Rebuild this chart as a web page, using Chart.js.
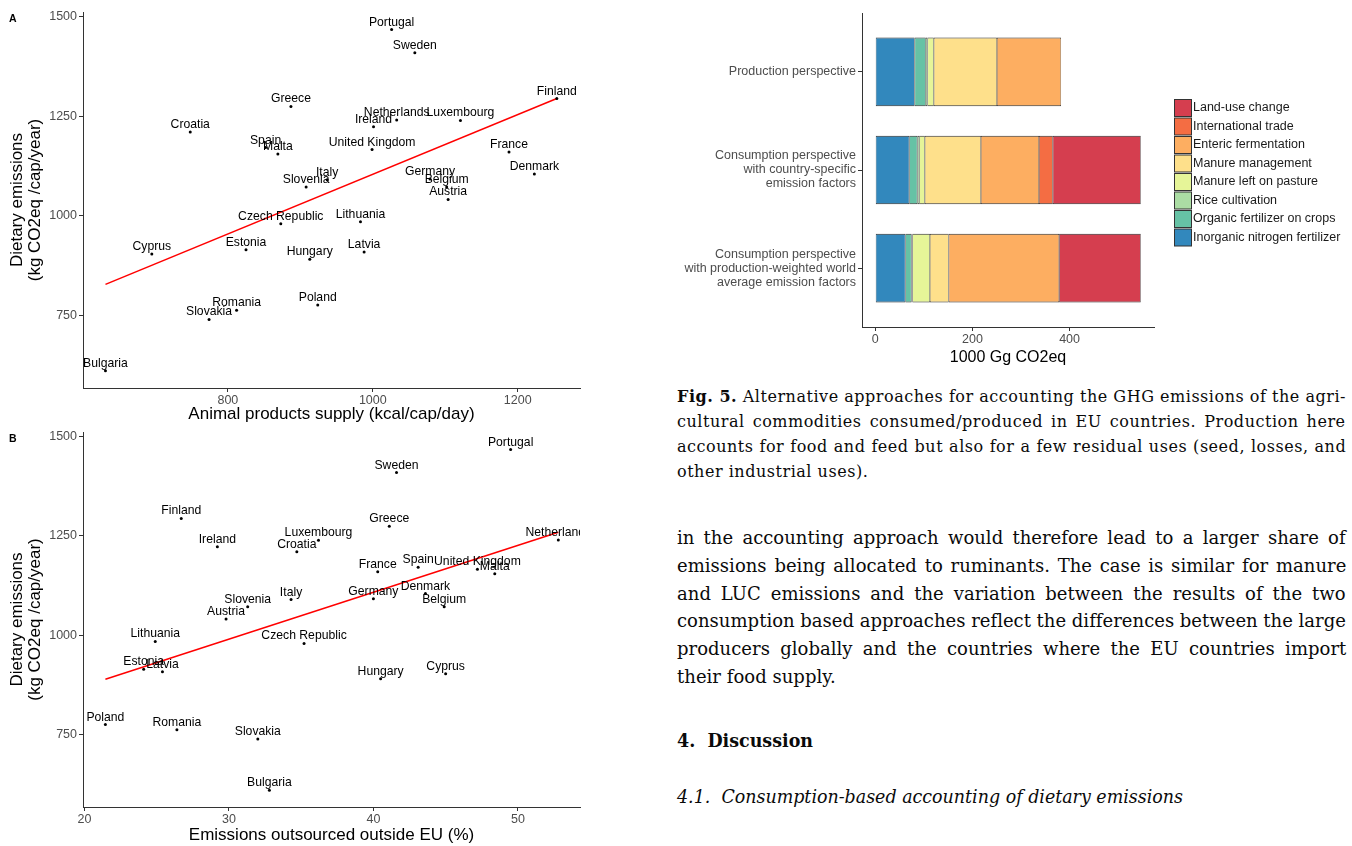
<!DOCTYPE html>
<html>
<head>
<meta charset="utf-8">
<script src="https://cdn.jsdelivr.net/npm/chart.js@4.4.1/dist/chart.umd.min.js"></script>
<style>
  html, body { margin: 0; padding: 0; background: #fff; }
  body { width: 1352px; height: 846px; position: relative; overflow: hidden; }
  canvas { position: absolute; }
  .panel { position: absolute; font: bold 10.5px "Liberation Sans", Arial, sans-serif; line-height: 12px; color: #000; }
  .ln { position: absolute; left: 677px; white-space: pre; font-family: "DejaVu Serif", serif; color: #0a0a0a; transform-origin: 0 50%; }
  .cap { font-size: 16px; line-height: 24px; height: 24px; }
  .body { font-size: 18px; line-height: 26px; height: 26px; }
  .head { font-size: 18px; line-height: 26px; height: 26px; font-weight: bold; }
  .sub { font-size: 18px; line-height: 26px; height: 26px; font-style: italic; }
</style>
</head>
<body>
<canvas id="scatterA" width="590" height="425" style="left:0;top:0"></canvas>
<canvas id="scatterB" width="590" height="421" style="left:0;top:425px"></canvas>
<canvas id="bars" width="692" height="372" style="left:660px;top:0"></canvas>
<div class="panel" style="left:9px;top:12px">A</div>
<div class="panel" style="left:9px;top:432px">B</div>
<div id="text"></div>
<script>
// ---- Country data (per-capita dietary emissions and drivers) ----
const countries = ["Portugal","Sweden","Finland","Greece","Croatia","Netherlands","Ireland","Luxembourg",
  "Spain","Malta","United Kingdom","France","Denmark","Italy","Slovenia","Germany","Belgium","Austria",
  "Czech Republic","Lithuania","Cyprus","Estonia","Hungary","Latvia","Poland","Romania","Slovakia","Bulgaria"];
const dietaryEmissions = [1467,1409,1294,1274,1210,1240,1223,1239,
  1171,1155,1166,1160,1105,1090,1072,1092,1072,1041,
  980,985,904,915,891,909,776,763,740,611];
const animalSupply = [1026,1058,1254,887,748,1033,1001,1121,
  852,869,999,1188,1223,937,908,1079,1102,1104,
  873,983,695,825,913,988,924,812,774,631];
const outsourcedShare = [49.5,41.6,26.7,41.1,34.7,52.8,29.2,36.2,
  43.1,48.4,47.2,40.3,43.6,34.3,31.3,40.0,44.9,29.8,
  35.2,24.9,45.0,24.1,40.5,25.4,21.45,26.4,32.0,32.8];

// Linear-fit end points
const fitSupplyX = [631, 1254];
const fitSupplyY = [828, 1294];
const fitOutsourcedX = [21.45, 52.8];
const fitOutsourcedY = [890, 1259];

const supplyTicks = [800, 1000, 1200];
const outsourcedTicks = [20, 30, 40, 50];
const emissionTicks = [750, 1000, 1250, 1500];

// ---- Accounting perspectives (1000 Gg CO2eq) ----
const perspectives = [
  ["Production perspective"],
  ["Consumption perspective", "with country-specific", "emission factors"],
  ["Consumption perspective", "with production-weighted world", "average emission factors"]
];
const sources = ["Inorganic nitrogen fertilizer","Organic fertilizer on crops","Rice cultivation",
  "Manure left on pasture","Manure management","Enteric fermentation","International trade","Land-use change"];
const inorganicN  = [81, 70, 62];
const organicFert = [23, 16.5, 12.5];
const rice        = [3.5, 4, 2];
const pasture     = [13, 11.5, 36];
const manureMgmt  = [130, 115.5, 38.7];
const enteric     = [132, 119.5, 227.3];
const trade       = [0, 28.5, 0];
const landUse     = [0, 181, 168];
const barTicks = [0, 200, 400];

const sourceColors = ["#3288BD","#66C2A5","#ABDDA4","#E6F598","#FEE08B","#FDAE61","#F46D43","#D53E4F"];

const sansFont = '"Liberation Sans", Arial, sans-serif';
Chart.defaults.font.family = sansFont;

function fixedTicks(list) {
  return s => { s.ticks = list.map(v => ({ value: v })); };
}

function scatterChart(id, xs, fitX, fitY, xTicks, xRange, yRange, xTitle, padTop, xAxisHeight) {
  const countryLabels = {
    id: 'countryLabels',
    afterDatasetsDraw(chart) {
      const { ctx, chartArea: a } = chart;
      const meta = chart.getDatasetMeta(0);
      ctx.save();
      ctx.beginPath();
      ctx.rect(a.left, a.top, a.right - a.left, a.bottom - a.top);
      ctx.clip();
      ctx.font = '12.2px ' + sansFont;
      ctx.fillStyle = '#000';
      ctx.textAlign = 'center';
      ctx.textBaseline = 'alphabetic';
      meta.data.forEach((pt, i) => ctx.fillText(countries[i], pt.x, pt.y - 4));
      ctx.restore();
    }
  };
  return new Chart(document.getElementById(id), {
    type: 'scatter',
    data: {
      datasets: [
        {
          data: countries.map((c, i) => ({ x: xs[i], y: dietaryEmissions[i] })),
          pointRadius: 1.5, pointHoverRadius: 1.5,
          pointBackgroundColor: '#000', pointBorderWidth: 0
        },
        {
          data: fitX.map((x, i) => ({ x: x, y: fitY[i] })),
          showLine: true, borderColor: '#ff0000', borderWidth: 1.5,
          pointRadius: 0, pointHoverRadius: 0
        }
      ]
    },
    options: {
      responsive: false, animation: false, devicePixelRatio: 1, events: [],
      layout: { padding: { top: padTop, right: 10, left: 0, bottom: 0 } },
      plugins: { legend: { display: false }, tooltip: { enabled: false } },
      scales: {
        x: {
          type: 'linear', min: xRange[0], max: xRange[1],
          afterBuildTicks: fixedTicks(xTicks),
          afterFit: s => { s.height = xAxisHeight; s.paddingLeft = 0; s.paddingRight = 0; },
          grid: { display: true, drawOnChartArea: false, drawTicks: true, tickLength: 4, color: '#333', lineWidth: 1 },
          border: { display: true, color: '#333', width: 1 },
          ticks: { color: '#4d4d4d', font: { size: 12.5 }, padding: 1, maxRotation: 0, callback: v => String(v) },
          title: { display: true, text: xTitle, color: '#000', font: { size: 17 }, padding: { top: 0, bottom: 0 } }
        },
        y: {
          type: 'linear', min: yRange[0], max: yRange[1],
          afterBuildTicks: fixedTicks(emissionTicks),
          afterFit: s => { s.width = 83; s.paddingTop = 0; s.paddingBottom = 0; },
          grid: { display: true, drawOnChartArea: false, drawTicks: true, tickLength: 4, color: '#333', lineWidth: 1 },
          border: { display: true, color: '#333', width: 1 },
          ticks: { color: '#4d4d4d', font: { size: 12.5 }, padding: 2, callback: v => String(v) },
          title: {
            display: true, text: ['Dietary emissions', '(kg CO2eq /cap/year)'], color: '#000',
            font: { size: 17, lineHeight: 1.06 }, padding: { top: 8, bottom: 0 }
          }
        }
      }
    },
    plugins: [countryLabels]
  });
}

scatterChart('scatterA', animalSupply, fitSupplyX, fitSupplyY, supplyTicks,
  [600, 1286], [568, 1511], 'Animal products supply (kcal/cap/day)', 12, 37);
scatterChart('scatterB', outsourcedShare, fitOutsourcedX, fitOutsourcedY, outsourcedTicks,
  [19.9, 54.3], [569, 1511], 'Emissions outsourced outside EU (%)', 7, 39);

// ---- Stacked horizontal bars ----
const sourceValues = [inorganicN, organicFert, rice, pasture, manureMgmt, enteric, trade, landUse];
const barDatasets = sourceValues.map((vals, k) => ({
  label: sources[k],
  data: vals.map((v, i) => ({ x: v, y: i })),
  backgroundColor: sourceColors[k],
  borderColor: '#2a2a2a',
  borderWidth: { top: 1, bottom: 1, left: 0.6, right: 0.6 },
  borderSkipped: false,
  barPercentage: 0.7,
  categoryPercentage: 1
}));

const sourceLegend = {
  id: 'sourceLegend',
  afterDraw(chart) {
    const ctx = chart.ctx;
    const x0 = chart.chartArea.right + 20.5;
    ctx.save();
    ctx.font = '12.5px ' + sansFont;
    ctx.textBaseline = 'middle';
    ctx.textAlign = 'left';
    chart.data.datasets.slice().reverse().forEach((ds, k) => {
      const cy = 108 + k * 18.5;
      ctx.fillStyle = ds.backgroundColor;
      ctx.fillRect(x0, cy - 8.5, 17, 17);
      ctx.strokeStyle = '#333';
      ctx.lineWidth = 1;
      ctx.strokeRect(x0, cy - 8.5, 17, 17);
      ctx.fillStyle = '#1a1a1a';
      ctx.fillText(ds.label, x0 + 18.5, cy);
    });
    ctx.restore();
  }
};

new Chart(document.getElementById('bars'), {
  type: 'bar',
  data: { datasets: barDatasets },
  options: {
    indexAxis: 'y',
    responsive: false, animation: false, devicePixelRatio: 1, events: [],
    layout: { padding: { top: 13, right: 198, left: 0, bottom: 0 } },
    plugins: { legend: { display: false }, tooltip: { enabled: false } },
    scales: {
      x: {
        type: 'linear', stacked: true, min: -27.3, max: 573.8,
        afterBuildTicks: fixedTicks(barTicks),
        afterFit: s => { s.height = 45; s.paddingLeft = 0; s.paddingRight = 0; },
        grid: { display: true, drawOnChartArea: false, drawTicks: true, tickLength: 4, color: '#333', lineWidth: 1 },
        border: { display: true, color: '#333', width: 1 },
        ticks: { color: '#4d4d4d', font: { size: 12.5 }, padding: 1, maxRotation: 0, callback: v => String(v) },
        title: { display: true, text: '1000 Gg CO2eq', color: '#000', font: { size: 16 }, padding: { top: 0, bottom: 5 } }
      },
      y: {
        type: 'linear', stacked: true, reverse: true, min: -0.6, max: 2.6,
        offset: false,
        afterBuildTicks: fixedTicks(perspectives.map((p, i) => i)),
        afterFit: s => { s.width = 202; s.paddingTop = 0; s.paddingBottom = 0; },
        grid: { display: true, offset: false, drawOnChartArea: false, drawTicks: true, tickLength: 4, color: '#333', lineWidth: 1 },
        border: { display: true, color: '#333', width: 1 },
        ticks: { color: '#4d4d4d', font: { size: 12.5, lineHeight: 1.12 }, padding: 2, callback: v => perspectives[v] }
      }
    }
  },
  plugins: [sourceLegend]
});

// ---- Caption and article text ----
const textBlocks = [
  { cls: 'cap', lines: [
    { html: '<b>Fig. 5.</b> Alternative approaches for accounting the GHG emissions of the agri-', y: 396.5, w: 669, j: true },
    { html: 'cultural commodities consumed/produced in EU countries. Production here', y: 421.8, w: 669, j: true },
    { html: 'accounts for food and feed but also for a few residual uses (seed, losses, and', y: 447.1, w: 669, j: true },
    { html: 'other industrial uses).', y: 472.4, w: 186, j: false }
  ]},
  { cls: 'body', lines: [
    { html: 'in the accounting approach would therefore lead to a larger share of', y: 537.7, w: 669, j: true },
    { html: 'emissions being allocated to ruminants. The case is similar for manure', y: 565.6, w: 669, j: true },
    { html: 'and LUC emissions and the variation between the results of the two', y: 593.5, w: 669, j: true },
    { html: 'consumption based approaches reflect the differences between the large', y: 621.4, w: 669, j: true },
    { html: 'producers globally and the countries where the EU countries import', y: 649.3, w: 669, j: true },
    { html: 'their food supply.', y: 677.2, w: 168, j: false }
  ]},
  { cls: 'head', lines: [ { html: '4.  Discussion', y: 740.5, w: 136, j: false } ] },
  { cls: 'sub', lines: [ { html: '4.1.  Consumption-based accounting of dietary emissions', y: 797, w: 506, j: false } ] }
];

const textRoot = document.getElementById('text');
textBlocks.forEach(block => {
  const els = block.lines.map(line => {
    const el = document.createElement('div');
    el.className = 'ln ' + block.cls;
    el.innerHTML = line.html;
    textRoot.appendChild(el);
    const lh = parseFloat(getComputedStyle(el).lineHeight);
    el.style.top = (line.y - lh / 2) + 'px';
    return { el, line, w: el.getBoundingClientRect().width };
  });
  // the tightest line of a block sets its horizontal scale / letter spacing
  const just = els.filter(e => e.line.j);
  const ref = just.length ? just : [els[0]];
  let ratio = Infinity;
  ref.forEach(e => { ratio = Math.min(ratio, e.line.w / e.w); });
  let scale = 1, ls = 0;
  if (ratio < 1) {
    scale = ratio;
  } else {
    let best = Infinity;
    ref.forEach(e => { best = Math.min(best, (e.line.w - e.w) / e.el.textContent.length); });
    ls = best;
  }
  els.forEach(e => {
    e.el.style.letterSpacing = ls + 'px';
    if (scale !== 1) e.el.style.transform = 'scaleX(' + scale + ')';
  });
  els.forEach(e => {
    if (!e.line.j) return;
    const w = e.el.offsetWidth;
    const n = (e.el.textContent.match(/ /g) || []).length;
    if (n) e.el.style.wordSpacing = ((e.line.w / scale - w) / n) + 'px';
  });
});
</script>
</body>
</html>
